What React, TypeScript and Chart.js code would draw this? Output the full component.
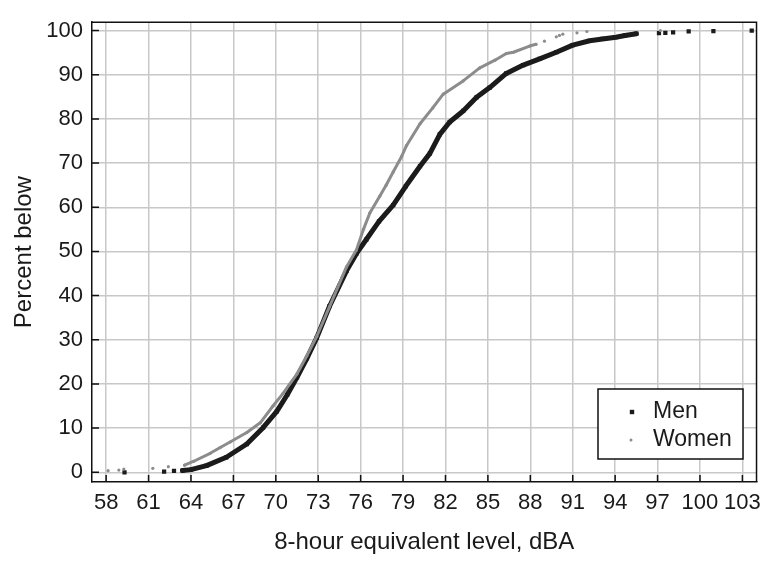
import React, { useEffect, useRef } from 'react';
import { Chart, registerables } from 'chart.js';

Chart.register(...registerables);

const FONT = '"Liberation Sans", Arial, Helvetica, sans-serif';

const xTickValues = [58, 61, 64, 67, 70, 73, 76, 79, 82, 85, 88, 91, 94, 97, 100, 103];
const yTickValues = [0, 10, 20, 30, 40, 50, 60, 70, 80, 90, 100];

const xTitle = '8-hour equivalent level, dBA';
const yTitle = 'Percent below';

const seriesLabels = ['Men', 'Women'];

// Men: continuous part of the cumulative curve
const menCurveX = [63.4, 64.0, 65.1, 66.5, 67.95, 69.1, 70.07, 70.8, 71.5, 72.2, 72.9, 73.8, 75.0, 75.7, 76.4, 77.3, 78.3, 79.2, 80.2, 80.9, 81.6, 82.3, 83.25, 84.2, 85.13, 86.3, 87.5, 88.66, 89.84, 91.0, 92.2, 93.1, 94.05, 94.7, 95.5];
const menCurveY = [0.4, 0.6, 1.5, 3.4, 6.4, 10.1, 13.8, 17.5, 21.5, 25.8, 30.5, 37.6, 45.6, 49.5, 52.7, 56.8, 60.5, 64.8, 69.3, 72.2, 76.5, 79.3, 81.8, 84.9, 87.1, 90.3, 92.2, 93.6, 95.1, 96.7, 97.7, 98.1, 98.5, 98.9, 99.3];
// Men: isolated individual observations in the tails
const menTailX = [59.3, 62.1, 62.8, 97.1, 97.55, 98.1, 99.2, 100.95, 103.66];
const menTailY = [0.0, 0.15, 0.3, 99.4, 99.5, 99.6, 99.8, 99.9, 100.0];

// Women: continuous part of the cumulative curve
const womenCurveX = [63.55, 64.2, 65.36, 66.07, 66.8, 67.95, 68.9, 69.8, 70.5, 71.5, 72.2, 72.9, 73.8, 75.0, 75.7, 76.2, 76.65, 77.35, 77.8, 78.3, 78.9, 79.25, 80.2, 81.1, 81.84, 83.25, 84.4, 85.5, 86.3, 86.8, 87.95, 88.4];
const womenCurveY = [1.6, 2.5, 4.3, 5.6, 6.9, 9.0, 11.2, 15.0, 17.8, 22.3, 26.4, 30.8, 37.5, 46.5, 50.3, 55.0, 58.7, 62.5, 65.0, 68.0, 71.5, 74.0, 78.9, 82.5, 85.6, 88.6, 91.5, 93.3, 94.8, 95.1, 96.5, 96.9];
// Women: isolated individual observations in the tails
const womenTailX = [58.14, 58.9, 59.25, 61.3, 62.4, 89.0, 89.84, 90.06, 90.3, 91.3, 92.0, 97.2];
const womenTailY = [0.37, 0.5, 0.74, 0.9, 1.26, 97.6, 98.6, 98.9, 99.2, 99.5, 99.8, 100.0];

const MEN_COLOR = '#1b1b1b';
const WOMEN_COLOR = '#8c8c8c';

const toPoints = (xs: number[], ys: number[]) => xs.map((x, i) => ({ x, y: ys[i] }));

const framePlugin = {
  id: 'frameAndLegend',
  afterDraw(chart: any) {
    const { ctx, chartArea, scales } = chart;
    const { left, right, top, bottom } = chartArea;
    ctx.save();
    ctx.strokeStyle = '#111';
    ctx.lineWidth = 1.5;
    ctx.beginPath();
    ctx.moveTo(left, top);
    ctx.lineTo(right, top);
    ctx.lineTo(right, bottom);
    ctx.stroke();
    ctx.beginPath();
    xTickValues.forEach((v) => {
      const px = scales.x.getPixelForValue(v);
      ctx.moveTo(px, bottom);
      ctx.lineTo(px, bottom - 7);
    });
    yTickValues.forEach((v) => {
      const py = scales.y.getPixelForValue(v);
      ctx.moveTo(left, py);
      ctx.lineTo(left + 7, py);
    });
    ctx.stroke();

    const bx = 598, by = 389, bw = 145, bh = 70;
    ctx.fillStyle = '#fff';
    ctx.fillRect(bx, by, bw, bh);
    ctx.strokeStyle = '#111';
    ctx.lineWidth = 1.5;
    ctx.strokeRect(bx, by, bw, bh);
    ctx.font = `23px ${FONT}`;
    ctx.textBaseline = 'middle';
    ctx.textAlign = 'left';
    ctx.fillStyle = MEN_COLOR;
    ctx.fillRect(632 - 2.2, 412 - 2.2, 4.4, 4.4);
    ctx.fillStyle = '#1a1a1a';
    ctx.fillText(seriesLabels[0], 653, 412);
    ctx.fillStyle = WOMEN_COLOR;
    ctx.beginPath();
    ctx.arc(631, 440, 1.5, 0, Math.PI * 2);
    ctx.fill();
    ctx.fillStyle = '#1a1a1a';
    ctx.fillText(seriesLabels[1], 653, 440);
    ctx.restore();
  },
};

export default function App() {
  const ref = useRef<HTMLCanvasElement | null>(null);

  useEffect(() => {
    if (!ref.current) return;
    const chart = new Chart(ref.current, {
      type: 'scatter',
      data: {
        datasets: [
          {
            label: seriesLabels[0],
            data: toPoints(menCurveX, menCurveY),
            showLine: true,
            borderColor: MEN_COLOR,
            backgroundColor: MEN_COLOR,
            borderWidth: 5,
            borderCapStyle: 'round',
            borderJoinStyle: 'round',
            pointStyle: 'rect',
            pointRadius: 3,
            pointBorderWidth: 0,
            order: 2,
          } as any,
          {
            label: seriesLabels[0] + ' (tail)',
            data: toPoints(menTailX, menTailY),
            showLine: false,
            borderColor: MEN_COLOR,
            backgroundColor: MEN_COLOR,
            pointStyle: 'rect',
            pointRadius: 3,
            pointBorderWidth: 0,
            order: 2,
          } as any,
          {
            label: seriesLabels[1],
            data: toPoints(womenCurveX, womenCurveY),
            showLine: true,
            borderColor: WOMEN_COLOR,
            backgroundColor: WOMEN_COLOR,
            borderWidth: 3,
            borderCapStyle: 'round',
            borderJoinStyle: 'round',
            pointStyle: 'circle',
            pointRadius: 1.6,
            pointBorderWidth: 0,
            order: 1,
          } as any,
          {
            label: seriesLabels[1] + ' (tail)',
            data: toPoints(womenTailX, womenTailY),
            showLine: false,
            borderColor: WOMEN_COLOR,
            backgroundColor: WOMEN_COLOR,
            pointStyle: 'circle',
            pointRadius: 1.6,
            pointBorderWidth: 0,
            order: 1,
          } as any,
        ],
      },
      options: {
        animation: false,
        responsive: false,
        layout: { padding: { top: 13, right: 12, left: 0, bottom: 0 } },
        plugins: {
          legend: { display: false },
          tooltip: { enabled: false },
        },
        scales: {
          x: {
            type: 'linear',
            min: 57,
            max: 104,
            afterBuildTicks: (s: any) => {
              s.ticks = xTickValues.map((value) => ({ value }));
            },
            afterFit: (s: any) => {
              s.height = 80;
            },
            ticks: {
              font: { family: FONT, size: 22 },
              color: '#1a1a1a',
              padding: 8,
              autoSkip: false,
              maxRotation: 0,
            },
            grid: { color: '#c8c8c8', lineWidth: 1.5, drawTicks: false },
            border: { display: true, color: '#111', width: 1.5 },
            title: {
              display: true,
              text: xTitle,
              color: '#1a1a1a',
              font: { family: FONT, size: 24 },
              padding: { top: 0, bottom: 5 },
            },
          },
          y: {
            type: 'linear',
            min: -2.2,
            max: 101.9,
            afterBuildTicks: (s: any) => {
              s.ticks = yTickValues.map((value) => ({ value }));
            },
            afterFit: (s: any) => {
              s.width = 92;
            },
            ticks: {
              font: { family: FONT, size: 22 },
              color: '#1a1a1a',
              padding: 9,
            },
            grid: { color: '#c8c8c8', lineWidth: 1.5, drawTicks: false },
            border: { display: true, color: '#111', width: 1.5 },
            title: {
              display: true,
              text: yTitle,
              color: '#1a1a1a',
              font: { family: FONT, size: 24 },
              padding: { top: 10, bottom: 0 },
            },
          },
        },
      },
      plugins: [framePlugin],
    });
    return () => chart.destroy();
  }, []);

  return (
    <div style={{ position: 'absolute', left: 0, top: 0, width: 769, height: 562, background: '#fff' }}>
      <canvas ref={ref} width={769} height={562} style={{ display: 'block' }} />
    </div>
  );
}
